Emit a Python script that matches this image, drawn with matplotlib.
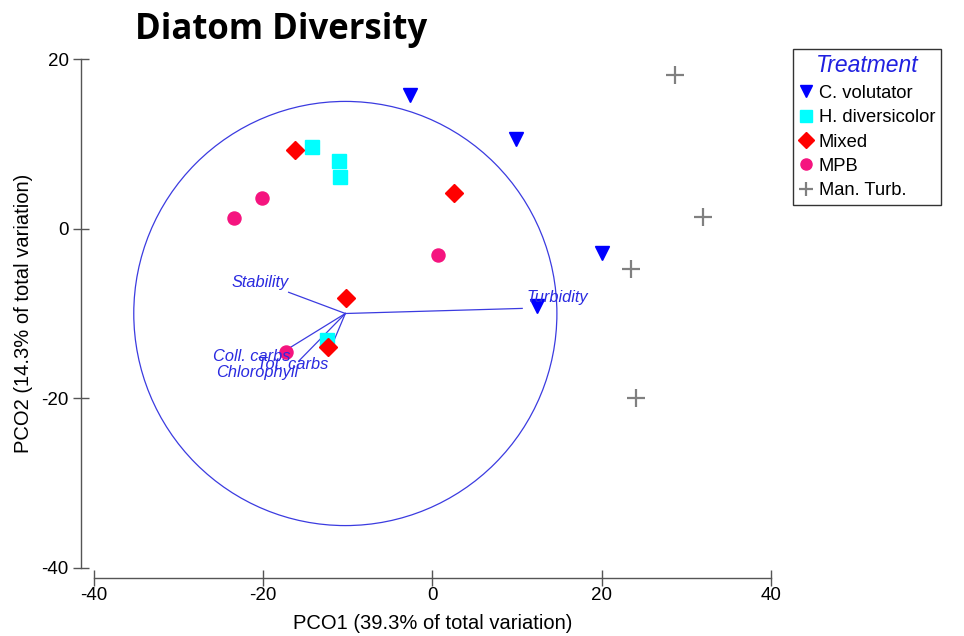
import matplotlib
matplotlib.use('Agg')
import matplotlib.pyplot as plt
from matplotlib.patches import Circle

# sample scores (PCO1, PCO2) per treatment
cvol_x = [-2.6, 9.9, 20.0, 12.4]
cvol_y = [15.8, 10.6, -2.9, -9.1]
hdiv_x = [-14.2, -11.1, -10.9, -12.5]
hdiv_y = [9.6, 8.0, 6.1, -13.1]
mixed_x = [-16.2, 2.5, -10.2, -12.3]
mixed_y = [9.3, 4.2, -8.2, -13.9]
mpb_x = [-20.1, -23.5, 0.7, -17.3]
mpb_y = [3.6, 1.3, -3.1, -14.5]
turb_x = [28.7, 32.0, 23.5, 24.1]
turb_y = [18.1, 1.4, -4.7, -20.0]

# vector overlay
circle_center = (-10.3, -10.0)
circle_radius = 25.0
vec_names = ['Stability', 'Turbidity', 'Coll. carbs', 'Tot. carbs', 'Chlorophyll']
vec_end_x = [-17.0, 10.6, -16.8, -12.2, -15.8]
vec_end_y = [-7.5, -9.4, -14.0, -14.5, -15.6]
vec_label_x = [-20.4, 14.7, -21.4, -16.5, -20.7]
vec_label_y = [-6.4, -8.1, -15.1, -16.0, -16.9]

treatments = ['C. volutator', 'H. diversicolor', 'Mixed', 'MPB', 'Man. Turb.']

plt.rcParams['font.family'] = ['Liberation Sans', 'DejaVu Sans']
plt.rcParams['axes.unicode_minus'] = False

fig = plt.figure(figsize=(9.64, 6.36), dpi=100)
ax = fig.add_axes([94 / 964, 1 - 568 / 636, 677 / 964, 509 / 636])

vc = '#3b3be0'
ax.add_patch(Circle(circle_center, circle_radius, fill=False, ec=vc, lw=0.9))
for name, ex, ey, lx, ly in zip(vec_names, vec_end_x, vec_end_y, vec_label_x, vec_label_y):
    ax.plot([circle_center[0], ex], [circle_center[1], ey], color=vc, lw=0.9)
    ax.text(lx, ly, name, color='#2a2ae0', style='italic', fontsize=11.8,
            ha='center', va='center')

ax.plot(cvol_x, cvol_y, 'v', color='#0000ff', ms=10, ls='none', label=treatments[0], clip_on=False)
ax.plot(hdiv_x, hdiv_y, 's', color='#00ffff', ms=9.4, ls='none', label=treatments[1], clip_on=False)
ax.plot(mixed_x, mixed_y, 'D', color='#ff0000', ms=9.5, ls='none', label=treatments[2], clip_on=False)
ax.plot(mpb_x, mpb_y, 'o', color='#f5147f', ms=9.4, ls='none', label=treatments[3], clip_on=False)
ax.plot(turb_x, turb_y, '+', color='#808080', ms=12.5, mew=1.6, ls='none', label=treatments[4], clip_on=False)

ax.set_xlim(-40, 40)
ax.set_ylim(-40, 20)
ax.set_xticks([-40, -20, 0, 20, 40])
ax.set_yticks([-40, -20, 0, 20])

for s in ['top', 'right']:
    ax.spines[s].set_visible(False)
ax.spines['left'].set_position(('outward', 9.4))
ax.spines['bottom'].set_position(('outward', 7.2))
for s in ['left', 'bottom']:
    ax.spines[s].set_color('#555555')
    ax.spines[s].set_linewidth(1.0)
ax.tick_params(direction='inout', length=11.5, width=1.0, color='#555555',
               labelsize=13.5, labelcolor='black')
ax.tick_params(axis='x', pad=1)
ax.tick_params(axis='y', pad=3)

ax.set_xlabel('PCO1 (39.3% of total variation)', fontsize=14.5, labelpad=7)
ax.set_ylabel('PCO2 (14.3% of total variation)', fontsize=14.5, labelpad=6)

leg = ax.legend(loc='upper left', bbox_to_anchor=(793 / 964, 1 - 49 / 636),
                bbox_transform=fig.transFigure, fontsize=13.2, title='Treatment',
                fancybox=False, edgecolor='#333333', framealpha=1, markerscale=0.85,
                handlelength=0.8, handletextpad=0.3, labelspacing=0.4,
                borderpad=0.3, borderaxespad=0)
leg.get_title().set_color('#2020e0')
leg.get_title().set_style('italic')
leg.get_title().set_fontsize(16.5)
leg.get_frame().set_linewidth(1.0)

fig.text(281 / 964, 1 - 30 / 636, 'Diatom Diversity', fontsize=25, fontweight='bold',
         family=['Open Sans', 'DejaVu Sans'], ha='center', va='center')

fig.savefig('out.png', dpi=100)
